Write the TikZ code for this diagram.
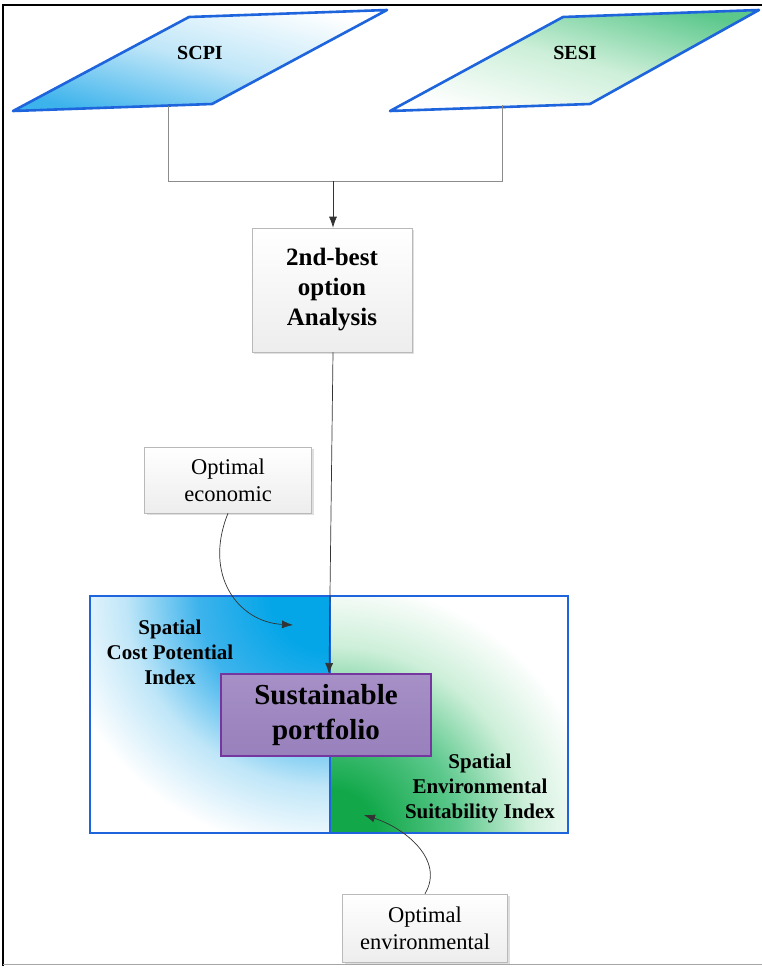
\documentclass[tikz,border=0pt]{standalone}
\usepackage{fontspec}
\setmainfont{Liberation Serif}
\usetikzlibrary{arrows.meta,shadows}

\definecolor{frameblue}{HTML}{1E64DC}
\definecolor{skyblue}{HTML}{3DB3EC}
\definecolor{paleblue}{HTML}{BFE6F8}
\definecolor{deepsky}{HTML}{05A6E8}
\definecolor{leafgreen}{HTML}{5CC88C}
\definecolor{palegreen}{HTML}{CDEFD9}
\definecolor{deepgreen}{HTML}{12A84A}
\definecolor{plum}{HTML}{9880BC}
\definecolor{plumlight}{HTML}{A690C6}
\definecolor{plumedge}{HTML}{7536A0}
\definecolor{wire}{HTML}{8C8C8C}

% glows for the two halves of the index panel (path edge sits at 25bp)
\pgfdeclareradialshading{blueglow}{\pgfpoint{0bp}{0bp}}{color(0bp)=(deepsky); color(5bp)=(deepsky); color(11bp)=(skyblue); color(17bp)=(paleblue); color(23bp)=(white); color(50bp)=(white)}
\pgfdeclareradialshading{greenglow}{\pgfpoint{0bp}{0bp}}{color(0bp)=(deepgreen); color(4bp)=(deepgreen); color(11bp)=(leafgreen); color(17bp)=(palegreen); color(23bp)=(white); color(50bp)=(white)}

\tikzset{
  datain/.style={draw=frameblue, line width=2.6pt, line join=round},
  greybox/.style={draw=gray!55, line width=0.6pt, top color=white, bottom color=gray!14,
    drop shadow={opacity=0.25, shadow xshift=2pt, shadow yshift=-2pt}, align=center},
  conn/.style={draw=wire, line width=0.7pt},
  tip/.style={-{Latex[length=11pt,width=8pt]}, draw=black!80},
  boldlbl/.style={font=\bfseries\fontsize{21}{25}\selectfont, align=center, inner sep=0pt},
  plainlbl/.style={font=\fontsize{22.5}{27}\selectfont},
}

\begin{document}
\begin{tikzpicture}[x=1pt, y=-1pt]
\useasboundingbox (0,0) rectangle (761,969);
\fill[white] (0,0) rectangle (761,969);

% outer frame
\draw[black, line width=2.2pt] (3,966) -- (3,5) -- (763,5);
\draw[gray!70, line width=1pt] (3,964) -- (763,964);

% input layers
\shade[top color=white, bottom color=skyblue, middle color=paleblue, shading angle=-15]
  (189,17) -- (387,10) -- (212,104) -- (13,111) -- cycle;
\draw[datain] (189,17) -- (387,10) -- (212,104) -- (13,111) -- cycle;
\node[boldlbl, font=\bfseries\fontsize{20}{24}\selectfont] (scpi) at (200,53) {SCPI};

\shade[top color=leafgreen, bottom color=white, middle color=palegreen, shading angle=-15]
  (563,17) -- (759,10) -- (590,104) -- (390,111) -- cycle;
\draw[datain] (563,17) -- (759,10) -- (590,104) -- (390,111) -- cycle;
\node[boldlbl, font=\bfseries\fontsize{20}{24}\selectfont] (sesi) at (575,53) {SESI};

\coordinate (scpiout) at (168,106);
\coordinate (sesiout) at (502,105);
\coordinate (merge) at (333,181);

% analysis step
\node[greybox, minimum width=160pt, minimum height=124pt, inner sep=0pt,
      font=\bfseries\fontsize{25}{30}\selectfont] (analysis) at (332,290)
  {2nd-best\\option\\Analysis};

\draw[conn] (scpiout) -- (scpiout |- merge) -- (sesiout |- merge) -- (sesiout);
\draw[conn, tip] (merge) -- (analysis.north -| merge);

% index panel
\begin{scope}
  \clip (90,596) rectangle (330,833);
  \shade[shading=blueglow] (330,596) ellipse [x radius=300pt, y radius=280pt];
\end{scope}
\begin{scope}
  \clip (330,596) rectangle (568,833);
  \shade[shading=greenglow] (330,833) ellipse [x radius=290pt, y radius=275pt];
\end{scope}
\draw[frameblue, line width=2.6pt] (90,596) rectangle (568,833);
\draw[frameblue, line width=2.6pt] (330,596) -- (330,833);

\node[boldlbl] (cpi) at (170,652) {Spatial\\Cost Potential\\Index};
\node[boldlbl] (esi) at (480,788) {Spatial\\Environmental\\Suitability Index};

\node[draw=plumedge, line width=1.6pt, top color=plumlight, bottom color=plum,
      minimum width=210pt, minimum height=82pt, inner sep=0pt, align=center,
      font=\bfseries\fontsize{29}{35}\selectfont] (portfolio) at (326,715)
  {Sustainable\\portfolio};

% optimal scenarios
\node[greybox, plainlbl, minimum width=167pt, minimum height=66pt, inner sep=0pt] (econ) at (228,480)
  {Optimal\\economic};
\node[greybox, plainlbl, minimum width=165pt, minimum height=68pt, inner sep=0pt] (envi) at (425,928)
  {Optimal\\environmental};

\coordinate (portin) at (329,674);
\coordinate (cpihit) at (293,625);
\coordinate (esihit) at (364,815);

\draw[conn, tip] (analysis.south -| 333,0) -- (portin);
\draw[conn, tip] (econ.south) .. controls (203,575) and (238,622) .. (cpihit);
\draw[conn, tip] (envi.north) .. controls (445,860) and (405,828) .. (esihit);
\end{tikzpicture}
\end{document}
